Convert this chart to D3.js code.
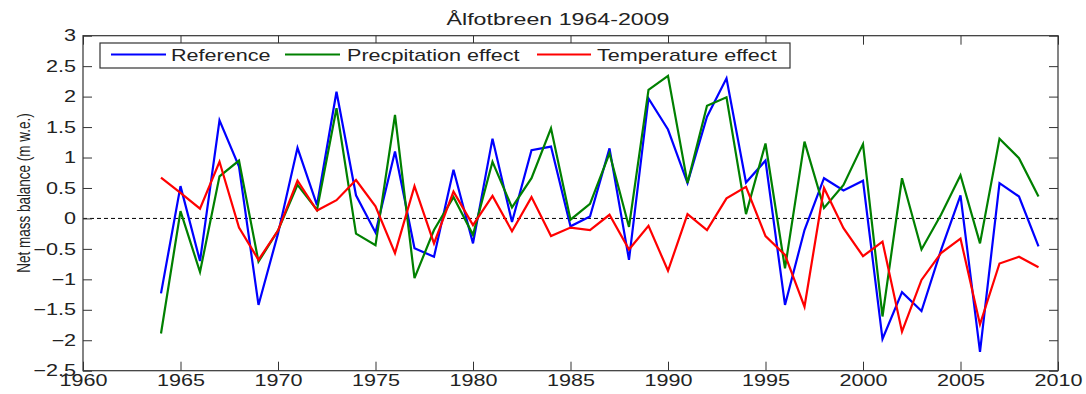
<!DOCTYPE html>
<html>
<head>
<meta charset="utf-8">
<script src="https://cdn.jsdelivr.net/npm/d3@7"></script>
<style>
  html, body { margin: 0; padding: 0; background: #fff; }
  svg { display: block; }
  text { font-family: "Liberation Sans", Arial, Helvetica, sans-serif; fill: #222; }
</style>
</head>
<body>
<svg id="chart" width="1086" height="394"></svg>
<script>
// Net mass balance series, Ålfotbreen 1964-2009 (m w.e.)
const years = d3.range(1964, 2010);
const reference = [
  -1.23, 0.53, -0.70, 1.61, 0.85, -1.42, -0.25, 1.16, 0.22, 2.08,
   0.38, -0.23, 1.10, -0.49, -0.63, 0.80, -0.41, 1.31, -0.06, 1.12,
   1.18, -0.13, 0.03, 1.15, -0.68, 1.97, 1.46, 0.58, 1.67, 2.30,
   0.59, 0.95, -1.42, -0.19, 0.66, 0.46, 0.62, -1.98, -1.21, -1.52,
  -0.52, 0.38, -2.19, 0.58, 0.36, -0.46
];
const precipitation = [
  -1.89, 0.12, -0.88, 0.69, 0.95, -0.71, -0.20, 0.55, 0.14, 1.81,
  -0.25, -0.44, 1.70, -0.98, -0.19, 0.35, -0.27, 0.93, 0.18, 0.66,
   1.48, -0.02, 0.24, 1.07, -0.14, 2.11, 2.34, 0.58, 1.85, 1.99,
   0.07, 1.23, -0.82, 1.26, 0.17, 0.55, 1.22, -1.61, 0.66, -0.51,
   0.06, 0.71, -0.41, 1.31, 0.99, 0.36
];
const temperature = [
   0.67, 0.42, 0.16, 0.93, -0.15, -0.68, -0.20, 0.62, 0.13, 0.30,
   0.63, 0.20, -0.57, 0.53, -0.41, 0.44, -0.11, 0.37, -0.21, 0.35,
  -0.29, -0.15, -0.19, 0.06, -0.51, -0.12, -0.86, 0.07, -0.19, 0.33,
   0.52, -0.29, -0.60, -1.45, 0.50, -0.16, -0.62, -0.38, -1.86, -1.01,
  -0.57, -0.33, -1.74, -0.74, -0.63, -0.80
];
const seriesNames = ["Reference", "Precpitation effect", "Temperature effect"];
const seriesColors = ["#0000ff", "#008000", "#ff0000"];
const xTicks = [1960, 1965, 1970, 1975, 1980, 1985, 1990, 1995, 2000, 2005, 2010];
const yTicks = [3, 2.5, 2, 1.5, 1, 0.5, 0, -0.5, -1, -1.5, -2, -2.5];
const titleText = "Ålfotbreen 1964-2009";
const yLabel = "Net mass balance (m w.e.)";

const svg = d3.select("#chart");
const plot = { left: 83, right: 1058, top: 35.7, bottom: 370.7 };
const SX = 1.35; // horizontal glyph stretch

const x = d3.scaleLinear().domain([1960, 2010]).range([plot.left, plot.right]);
const y = d3.scaleLinear().domain([-2.5, 3]).range([plot.bottom, plot.top]);

// zero reference line
svg.append("line")
  .attr("x1", x(1960)).attr("x2", x(2010))
  .attr("y1", y(0)).attr("y2", y(0))
  .attr("stroke", "#000").attr("stroke-width", 1)
  .attr("stroke-dasharray", "4,3");

// series lines
const line = d3.line().x((d, i) => x(years[i])).y(d => y(d));
[reference, precipitation, temperature].forEach((vals, k) => {
  svg.append("path")
    .datum(vals)
    .attr("d", line)
    .attr("fill", "none")
    .attr("stroke", seriesColors[k])
    .attr("stroke-width", 2.2)
    .attr("stroke-linejoin", "miter");
});

// axes with inward ticks on all four sides
const tick = 9;
const axColor = "#333";
function styleAxis(g) {
  g.select(".domain").remove();
  g.selectAll(".tick line").attr("stroke", axColor);
}
const gB = svg.append("g").attr("transform", `translate(0,${plot.bottom})`)
  .call(d3.axisBottom(x).tickValues(xTicks).tickSize(-tick).tickPadding(4).tickFormat(d3.format("d")));
styleAxis(gB);
gB.selectAll("text").attr("font-size", 16).attr("fill", "#222")
  .attr("transform", `scale(${SX},1)`);

const gT = svg.append("g").attr("transform", `translate(0,${plot.top})`)
  .call(d3.axisTop(x).tickValues(xTicks).tickSize(-tick).tickFormat(""));
styleAxis(gT);

const gL = svg.append("g").attr("transform", `translate(${plot.left},0)`)
  .call(d3.axisLeft(y).tickValues(yTicks).tickSize(-tick).tickPadding(7).tickFormat(d3.format("")));
styleAxis(gL);
gL.selectAll("text").attr("font-size", 16).attr("fill", "#222")
  .attr("x", -7 / SX).attr("transform", `scale(${SX},1)`);

const gR = svg.append("g").attr("transform", `translate(${plot.right},0)`)
  .call(d3.axisRight(y).tickValues(yTicks).tickSize(-tick).tickFormat(""));
styleAxis(gR);

// frame
svg.append("rect")
  .attr("x", plot.left).attr("y", plot.top)
  .attr("width", plot.right - plot.left).attr("height", plot.bottom - plot.top)
  .attr("fill", "none").attr("stroke", axColor).attr("stroke-width", 1.2);

// title
svg.append("text")
  .attr("transform", `translate(558,25) scale(1.45,1)`)
  .attr("text-anchor", "middle")
  .attr("font-size", 16)
  .text(titleText);

// y axis label
svg.append("text")
  .attr("transform", `translate(29.5,193) rotate(-90) scale(1,${SX})`)
  .attr("text-anchor", "middle")
  .attr("font-size", 13.5)
  .text(yLabel);

// legend
const legend = svg.append("g");
legend.append("rect")
  .attr("x", 100).attr("y", 43).attr("width", 690).attr("height", 25)
  .attr("fill", "#fff").attr("stroke", axColor).attr("stroke-width", 1.2);
const legendItems = [
  { x1: 111, x2: 166, tx: 171 },
  { x1: 285, x2: 340, tx: 347 },
  { x1: 537, x2: 591, tx: 597 }
];
legendItems.forEach((it, k) => {
  legend.append("line")
    .attr("x1", it.x1).attr("x2", it.x2).attr("y1", 54.5).attr("y2", 54.5)
    .attr("stroke", seriesColors[k]).attr("stroke-width", 2);
  legend.append("text")
    .attr("transform", `translate(${it.tx},61) scale(${SX},1)`)
    .attr("font-size", 16)
    .text(seriesNames[k]);
});
</script>
</body>
</html>
